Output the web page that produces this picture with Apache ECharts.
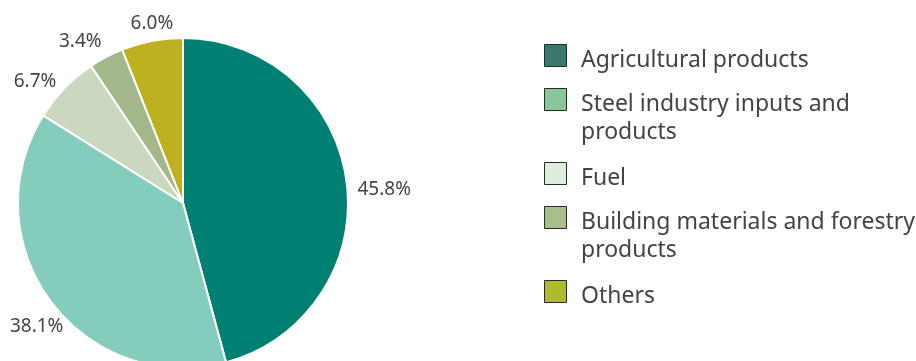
<!DOCTYPE html>
<html>
<head>
<meta charset="utf-8">
<script src="https://cdn.jsdelivr.net/npm/echarts@6/dist/echarts.min.js"></script>
<style>
  html, body { margin: 0; padding: 0; background: #ffffff; }
  #chart { width: 916px; height: 361px; }
</style>
</head>
<body>
<div id="chart"></div>
<script>
// Freight composition by commodity group (share of total, %)
const categories = [
  'Agricultural products',
  'Steel industry inputs and products',
  'Fuel',
  'Building materials and forestry products',
  'Others'
];
const shares = [45.8, 38.1, 6.7, 3.4, 6.0];
// Legend text, broken into lines as printed
const legendLines = [
  ['Agricultural products'],
  ['Steel industry inputs and', 'products'],
  ['Fuel'],
  ['Building materials and forestry', 'products'],
  ['Others']
];

const sliceColors = ['#007f73', '#84cdbd', '#cad8c0', '#a3b78b', '#bdb11f'];
const swatchColors = ['#3b776d', '#89c59d', '#ddeedd', '#a8bf8a', '#adbb2b'];
const textColor = '#444444';
const fontFamily = '"Noto Sans", sans-serif';

// small nudges for the outside value labels
const labelNudge = [[-4, 10], [26, 19], [4, 0], [5, -6], [28, -8]];

const chart = echarts.init(document.getElementById('chart'), null, { renderer: 'canvas' });

// Legend drawn as swatch + (possibly multi-line) text blocks
const legendGraphics = [];
let itemTop = 44;
legendLines.forEach((lines, i) => {
  legendGraphics.push({
    type: 'rect',
    left: 544, top: itemTop,
    shape: { width: 22, height: 22 },
    style: { fill: swatchColors[i], stroke: '#2a2a2a', lineWidth: 1 }
  });
  legendGraphics.push({
    type: 'text',
    left: 581, top: itemTop + 2,
    style: {
      text: lines.join('\n'),
      fill: textColor,
      font: '23px ' + fontFamily,
      lineHeight: 28
    }
  });
  itemTop += 44 + 30 * (lines.length - 1);
});

chart.setOption({
  animation: false,
  graphic: legendGraphics,
  series: [{
    type: 'pie',
    center: [183, 203],
    radius: [0, 165],
    startAngle: 90,
    clockwise: true,
    avoidLabelOverlap: false,
    itemStyle: { borderColor: '#ffffff', borderWidth: 2 },
    label: {
      show: true,
      position: 'outside',
      formatter: (p) => p.value.toFixed(1) + '%',
      color: textColor,
      fontSize: 19,
      fontFamily: fontFamily
    },
    labelLine: { show: false, length: 10, length2: 0 },
    labelLayout: (params) => ({
      dx: labelNudge[params.dataIndex][0],
      dy: labelNudge[params.dataIndex][1]
    }),
    emphasis: { disabled: true },
    data: categories.map((name, i) => ({
      name: name,
      value: shares[i],
      itemStyle: { color: sliceColors[i] }
    }))
  }]
});
</script>
</body>
</html>
